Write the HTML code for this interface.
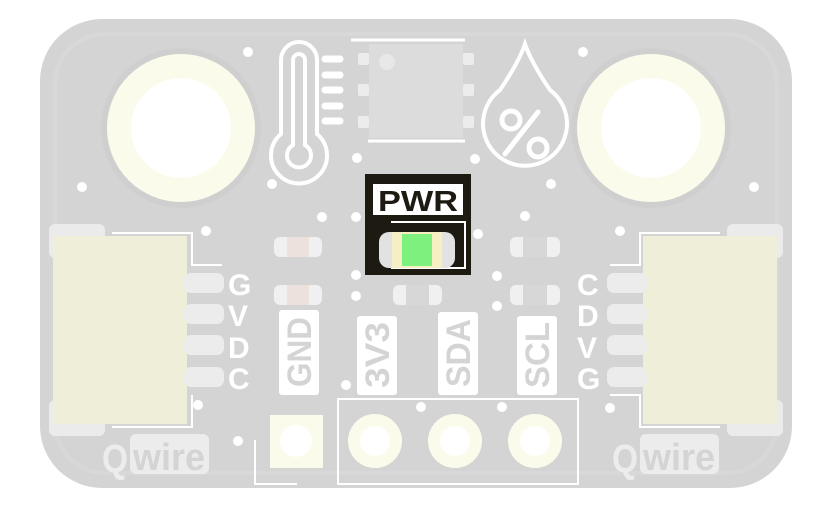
<!DOCTYPE html>
<html><head><meta charset="utf-8"><style>
html,body{margin:0;padding:0;background:#fff;width:826px;height:511px;overflow:hidden}
svg{display:block}
.lbl{font-family:"Liberation Sans",sans-serif;font-weight:bold;fill:#fff}
</style></head><body>
<svg width="826" height="511" viewBox="0 0 826 511" xmlns="http://www.w3.org/2000/svg">
<rect x="40" y="19" width="752" height="469" rx="62" fill="#d5d4d4"/>
<rect x="55" y="34" width="722" height="439" rx="50" fill="none" stroke="#d9d8d8" stroke-width="4"/>
<!-- mounting holes -->
<circle cx="181" cy="128" r="80" fill="#d0cfcf"/>
<circle cx="181" cy="128" r="74" fill="#fbfbeb"/>
<circle cx="181" cy="128" r="50" fill="#fff"/>
<circle cx="651" cy="128" r="80" fill="#d0cfcf"/>
<circle cx="651" cy="128" r="74" fill="#fbfbeb"/>
<circle cx="651" cy="128" r="50" fill="#fff"/>
<!-- chip -->
<line x1="351" y1="40" x2="465" y2="40" stroke="#fff" stroke-width="3"/>
<line x1="368" y1="141" x2="465" y2="141" stroke="#fff" stroke-width="3"/>
<rect x="369" y="44" width="94" height="94" fill="#dcdcdc"/>
<circle cx="387" cy="62" r="8" fill="#e8e8e8"/>
<g fill="#ececec">
<rect x="358" y="53" width="11" height="12" rx="2"/><rect x="358" y="84" width="11" height="12" rx="2"/><rect x="358" y="116" width="11" height="12" rx="2"/>
<rect x="463" y="53" width="11" height="12" rx="2"/><rect x="463" y="84" width="11" height="12" rx="2"/><rect x="463" y="116" width="11" height="12" rx="2"/>
</g>
<!-- thermometer -->
<g fill="none" stroke="#fff" stroke-width="4" stroke-linecap="round">
<path d="M281 134 V60 A18 18 0 0 1 317 60 V134 A28 28 0 1 1 281 134 Z"/>
<path d="M293 145 V60 A6 6 0 0 1 305 60 V145 A12 12 0 1 1 293 145 Z"/>
</g>
<g stroke="#fff" stroke-width="7" stroke-linecap="round">
<line x1="325" y1="59" x2="340" y2="59"/><line x1="325" y1="75" x2="340" y2="75"/><line x1="325" y1="90" x2="340" y2="90"/><line x1="325" y1="106" x2="340" y2="106"/><line x1="325" y1="121" x2="340" y2="121"/>
</g>
<!-- drop -->
<path d="M525 44 Q531 62 550 90 A42 42 0 1 1 500 90 Q519 62 525 44 Z" fill="none" stroke="#fff" stroke-width="4"/>
<g fill="none" stroke="#fff" stroke-width="5" stroke-linecap="round">
<circle cx="511" cy="120" r="9"/><circle cx="538" cy="148" r="9"/><line x1="505" y1="154" x2="538" y2="112"/>
</g>
<!-- PWR block -->
<rect x="365" y="174" width="106" height="101" fill="#1d1a12"/>
<rect x="373" y="184" width="90" height="31" fill="#fff"/>
<text x="418" y="211" class="lbl" text-anchor="middle" font-size="29" textLength="80" lengthAdjust="spacingAndGlyphs" style="fill:#1d1a12">PWR</text>
<path d="M391 222 H465 V268 H391" fill="none" stroke="#fff" stroke-width="2"/>
<rect x="379" y="232" width="76" height="36" rx="10" fill="#e2e2e2"/>
<rect x="392" y="232" width="50" height="36" fill="#f6efc4"/>
<rect x="402" y="234" width="30" height="32" fill="#7df07d"/>
<!-- small parts -->
<g>
<rect x="274" y="237" width="48" height="20" rx="6" fill="#f0f0f0"/><rect x="287" y="237" width="22" height="20" fill="#ece1dc"/>
<rect x="274" y="285" width="48" height="20" rx="6" fill="#f0f0f0"/><rect x="287" y="285" width="22" height="20" fill="#ece1dc"/>
<rect x="393" y="285" width="49" height="20" rx="6" fill="#f0f0f0"/><rect x="406" y="285" width="23" height="20" fill="#d7d7d7"/>
<rect x="510" y="237" width="50" height="20" rx="6" fill="#f0f0f0"/><rect x="523" y="237" width="24" height="20" fill="#d7d7d7"/>
<rect x="510" y="285" width="50" height="20" rx="6" fill="#f0f0f0"/><rect x="523" y="285" width="24" height="20" fill="#d7d7d7"/>
</g>
<!-- vias -->
<g fill="#fff">
<circle cx="248" cy="52" r="5"/><circle cx="82" cy="187" r="5"/><circle cx="272" cy="184" r="5"/><circle cx="357" cy="158" r="5"/>
<circle cx="322" cy="217" r="5"/><circle cx="356" cy="217" r="5"/><circle cx="206" cy="231" r="5"/>
<circle cx="583" cy="52" r="5"/><circle cx="475" cy="159" r="5"/><circle cx="551" cy="184" r="5"/><circle cx="754" cy="187" r="5"/>
<circle cx="525" cy="216" r="5"/><circle cx="620" cy="231" r="5"/><circle cx="478" cy="234" r="5"/>
<circle cx="356" cy="275" r="5"/><circle cx="356" cy="296" r="5"/><circle cx="497" cy="276" r="5"/><circle cx="497" cy="306" r="5"/>
<circle cx="346" cy="385" r="5"/><circle cx="421" cy="407" r="5"/><circle cx="502" cy="407" r="5"/><circle cx="610" cy="408" r="5"/>
<circle cx="238" cy="441" r="5"/><circle cx="198" cy="405" r="5"/>
</g>
<!-- left connector -->
<rect x="49" y="224" width="56" height="34" rx="6" fill="#ebebeb"/>
<rect x="49" y="400" width="56" height="36" rx="6" fill="#ebebeb"/>
<path d="M112 233 H192 V265 H222" fill="none" stroke="#fff" stroke-width="2"/>
<path d="M112 427 H192 V395" fill="none" stroke="#fff" stroke-width="2"/>
<rect x="53" y="236" width="134" height="188" fill="#efeed8"/>
<g fill="#ececec"><rect x="184" y="273" width="40" height="20" rx="7"/><rect x="184" y="304" width="40" height="20" rx="7"/><rect x="184" y="335" width="40" height="20" rx="7"/><rect x="184" y="367" width="40" height="20" rx="7"/></g>
<g class="lbl" font-size="30"><text x="228" y="295">G</text><text x="228" y="326">V</text><text x="228" y="358">D</text><text x="228" y="389">C</text></g>
<!-- right connector -->
<rect x="727" y="224" width="56" height="34" rx="6" fill="#ebebeb"/>
<rect x="727" y="400" width="56" height="36" rx="6" fill="#ebebeb"/>
<path d="M720 233 H640 V265 H610" fill="none" stroke="#fff" stroke-width="2"/>
<path d="M720 427 H640 V395 H610" fill="none" stroke="#fff" stroke-width="2"/>
<rect x="643" y="236" width="134" height="188" fill="#efeed8"/>
<g fill="#ececec"><rect x="607" y="273" width="40" height="20" rx="7"/><rect x="607" y="304" width="40" height="20" rx="7"/><rect x="607" y="335" width="40" height="20" rx="7"/><rect x="607" y="367" width="40" height="20" rx="7"/></g>
<g class="lbl" font-size="30"><text x="577" y="295">C</text><text x="577" y="326">D</text><text x="577" y="358">V</text><text x="577" y="389">G</text></g>
<!-- pin labels -->
<g fill="#fff"><rect x="279" y="310" width="40" height="85" rx="3"/><rect x="357" y="316" width="40" height="79" rx="3"/><rect x="438" y="312" width="40" height="83" rx="3"/><rect x="517" y="316" width="40" height="79" rx="3"/></g>
<g class="lbl" font-size="34" style="fill:#d5d4d4">
<text transform="translate(311 352) rotate(-90)" text-anchor="middle" textLength="70" lengthAdjust="spacingAndGlyphs">GND</text>
<text transform="translate(389 355) rotate(-90)" text-anchor="middle" textLength="66" lengthAdjust="spacingAndGlyphs">3V3</text>
<text transform="translate(470 353) rotate(-90)" text-anchor="middle" textLength="68" lengthAdjust="spacingAndGlyphs">SDA</text>
<text transform="translate(549 355) rotate(-90)" text-anchor="middle" textLength="66" lengthAdjust="spacingAndGlyphs">SCL</text>
</g>
<!-- bottom header -->
<path d="M255 440 V484 H297" fill="none" stroke="#fff" stroke-width="2"/>
<rect x="270" y="415" width="53" height="53" fill="#fbfbeb"/>
<circle cx="296" cy="441" r="16" fill="#fff"/>
<rect x="338" y="399" width="240" height="85" fill="none" stroke="#fff" stroke-width="2"/>
<g><circle cx="375" cy="441" r="27" fill="#fbfbeb"/><circle cx="375" cy="441" r="15" fill="#fff"/>
<circle cx="455" cy="441" r="27" fill="#fbfbeb"/><circle cx="455" cy="441" r="15" fill="#fff"/>
<circle cx="535" cy="441" r="27" fill="#fbfbeb"/><circle cx="535" cy="441" r="15" fill="#fff"/></g>
<!-- Qwire logos -->
<text x="102" y="472" class="lbl" font-size="40" textLength="26" lengthAdjust="spacingAndGlyphs" style="fill:#ececec">Q</text>
<rect x="130" y="434" width="79" height="40" rx="6" fill="#ececec"/>
<text x="169" y="470" class="lbl" font-size="38" text-anchor="middle" textLength="72" lengthAdjust="spacingAndGlyphs" style="fill:#d5d4d4">wire</text>
<text x="612" y="472" class="lbl" font-size="40" textLength="26" lengthAdjust="spacingAndGlyphs" style="fill:#ececec">Q</text>
<rect x="640" y="434" width="79" height="40" rx="6" fill="#ececec"/>
<text x="679" y="470" class="lbl" font-size="38" text-anchor="middle" textLength="72" lengthAdjust="spacingAndGlyphs" style="fill:#d5d4d4">wire</text>
</svg>
</body></html>
